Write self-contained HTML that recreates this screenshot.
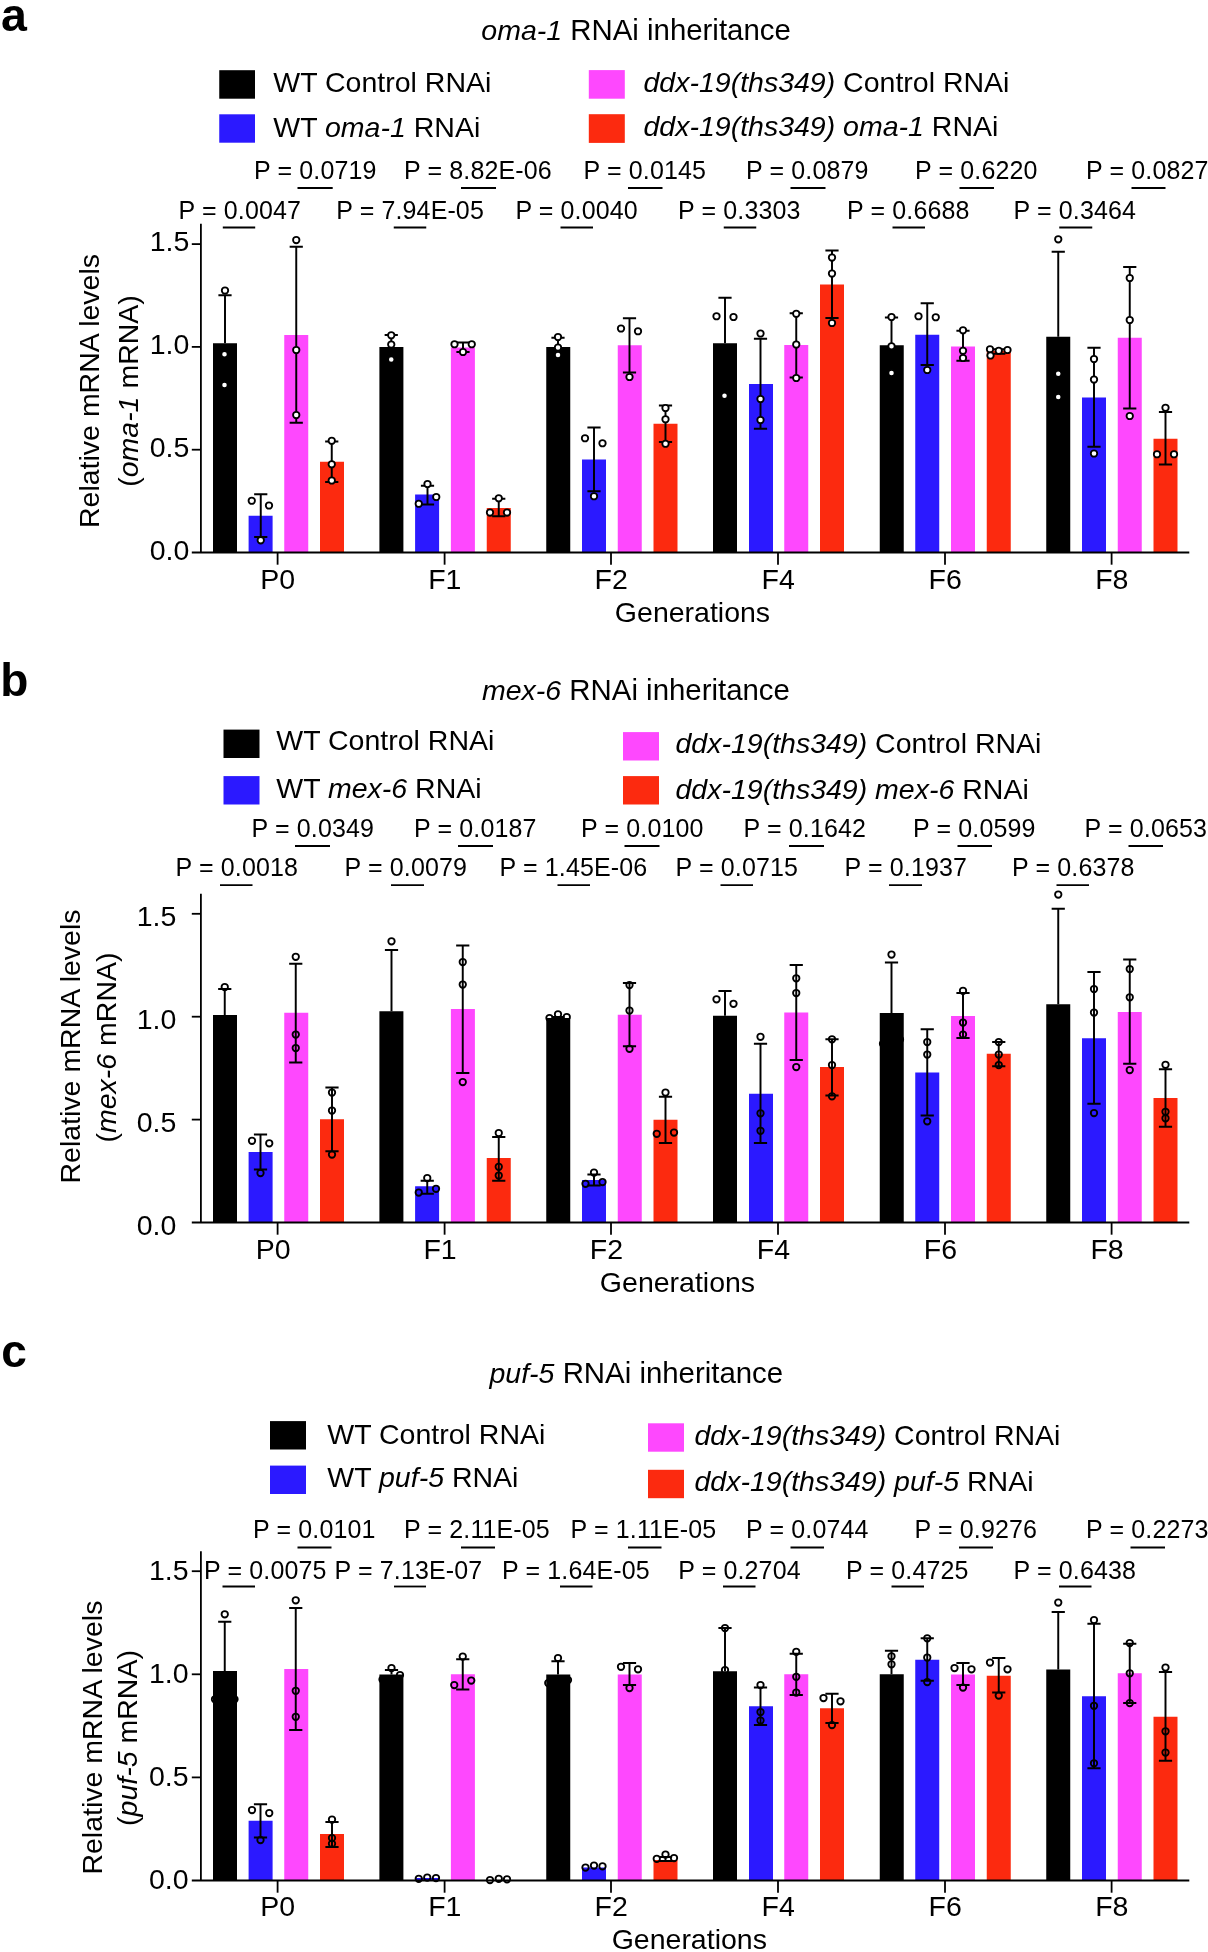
<!DOCTYPE html>
<html><head><meta charset="utf-8"><title>RNAi inheritance</title>
<style>
html,body{margin:0;padding:0;background:#fff;}
body{width:1208px;height:1952px;overflow:hidden;}
svg{display:block;font-family:"Liberation Sans",sans-serif;fill:#000;}
</style></head><body>
<svg width="1208" height="1952" viewBox="0 0 1208 1952">
<rect width="1208" height="1952" fill="#fff"/>
<rect x="213.00" y="343.25" width="24.0" height="209.25" fill="#000000"/>
<rect x="248.60" y="515.75" width="24.0" height="36.75" fill="#2b19ff"/>
<rect x="284.25" y="335.00" width="24.0" height="217.50" fill="#fe48fe"/>
<rect x="320.00" y="461.75" width="24.0" height="90.75" fill="#fc2a0f"/>
<rect x="379.40" y="347.00" width="24.0" height="205.50" fill="#000000"/>
<rect x="415.10" y="494.50" width="24.0" height="58.00" fill="#2b19ff"/>
<rect x="450.90" y="347.50" width="24.0" height="205.00" fill="#fe48fe"/>
<rect x="486.75" y="508.00" width="24.0" height="44.50" fill="#fc2a0f"/>
<rect x="546.25" y="347.00" width="24.0" height="205.50" fill="#000000"/>
<rect x="582.00" y="459.50" width="24.0" height="93.00" fill="#2b19ff"/>
<rect x="617.75" y="345.25" width="24.0" height="207.25" fill="#fe48fe"/>
<rect x="653.50" y="423.75" width="24.0" height="128.75" fill="#fc2a0f"/>
<rect x="713.00" y="343.25" width="24.0" height="209.25" fill="#000000"/>
<rect x="749.00" y="384.00" width="24.0" height="168.50" fill="#2b19ff"/>
<rect x="784.25" y="345.00" width="24.0" height="207.50" fill="#fe48fe"/>
<rect x="820.00" y="284.50" width="24.0" height="268.00" fill="#fc2a0f"/>
<rect x="879.75" y="345.25" width="24.0" height="207.25" fill="#000000"/>
<rect x="915.25" y="334.75" width="24.0" height="217.75" fill="#2b19ff"/>
<rect x="951.00" y="346.50" width="24.0" height="206.00" fill="#fe48fe"/>
<rect x="986.75" y="350.75" width="24.0" height="201.75" fill="#fc2a0f"/>
<rect x="1046.25" y="336.75" width="24.0" height="215.75" fill="#000000"/>
<rect x="1082.00" y="397.50" width="24.0" height="155.00" fill="#2b19ff"/>
<rect x="1117.75" y="337.75" width="24.0" height="214.75" fill="#fe48fe"/>
<rect x="1153.50" y="438.75" width="24.0" height="113.75" fill="#fc2a0f"/>
<g stroke="#000" stroke-width="1.8" fill="none">
<path d="M200.9 223.75V553.00"/>
<path d="M191.8 552.50H1189.3"/>
<path d="M191.8 449.70H200.9"/>
<path d="M191.8 346.90H200.9"/>
<path d="M191.8 244.10H200.9"/>
<path d="M277.60 552.50V564.70"/>
<path d="M444.60 552.50V564.70"/>
<path d="M611.00 552.50V564.70"/>
<path d="M778.00 552.50V564.70"/>
<path d="M945.00 552.50V564.70"/>
<path d="M1111.60 552.50V564.70"/>
</g>
<g stroke="#000" stroke-width="1.95" fill="none">
<path d="M225.00 295.25V343.25M218.40 295.25h13.2"/>
<path d="M260.75 494.25V537.00M254.15 494.25h13.2M254.15 537.00h13.2"/>
<path d="M296.25 246.75V422.75M289.65 246.75h13.2M289.65 422.75h13.2"/>
<path d="M331.75 441.50V482.00M325.15 441.50h13.2M325.15 482.00h13.2"/>
<path d="M391.25 335.00V347.00M384.65 335.00h13.2"/>
<path d="M427.50 485.75V504.50M420.90 485.75h13.2M420.90 504.50h13.2"/>
<path d="M463.00 342.50V352.00M456.40 342.50h13.2M456.40 352.00h13.2"/>
<path d="M498.75 498.75V516.25M492.15 498.75h13.2M492.15 516.25h13.2"/>
<path d="M558.00 337.75V347.00M551.40 337.75h13.2"/>
<path d="M594.00 427.50V491.25M587.40 427.50h13.2M587.40 491.25h13.2"/>
<path d="M629.50 318.25V372.50M622.90 318.25h13.2M622.90 372.50h13.2"/>
<path d="M665.50 405.50V442.00M658.90 405.50h13.2M658.90 442.00h13.2"/>
<path d="M725.00 297.75V343.25M718.40 297.75h13.2"/>
<path d="M760.50 338.75V428.75M753.90 338.75h13.2M753.90 428.75h13.2"/>
<path d="M796.25 313.25V377.50M789.65 313.25h13.2M789.65 377.50h13.2"/>
<path d="M832.00 250.50V318.00M825.40 250.50h13.2M825.40 318.00h13.2"/>
<path d="M891.50 317.50V345.25M884.90 317.50h13.2"/>
<path d="M927.25 303.25V365.00M920.65 303.25h13.2M920.65 365.00h13.2"/>
<path d="M963.00 330.75V360.75M956.40 330.75h13.2M956.40 360.75h13.2"/>
<path d="M998.75 349.25V353.75M992.15 349.25h13.2M992.15 353.75h13.2"/>
<path d="M1058.25 251.75V336.75M1051.65 251.75h13.2"/>
<path d="M1094.00 347.75V446.75M1087.40 347.75h13.2M1087.40 446.75h13.2"/>
<path d="M1129.75 267.00V408.50M1123.15 267.00h13.2M1123.15 408.50h13.2"/>
<path d="M1165.50 412.00V464.50M1158.90 412.00h13.2M1158.90 464.50h13.2"/>
</g>
<g stroke="#000" stroke-width="1.85" fill="#fff">
<circle cx="225.00" cy="290.50" r="3.2"/>
<circle cx="224.50" cy="354.25" r="3.2"/>
<circle cx="224.50" cy="385.00" r="3.2"/>
<circle cx="251.75" cy="500.75" r="3.2"/>
<circle cx="269.00" cy="505.50" r="3.2"/>
<circle cx="260.75" cy="540.25" r="3.2"/>
<circle cx="296.25" cy="240.00" r="3.2"/>
<circle cx="296.25" cy="350.00" r="3.2"/>
<circle cx="296.25" cy="415.00" r="3.2"/>
<circle cx="331.75" cy="440.75" r="3.2"/>
<circle cx="331.75" cy="464.25" r="3.2"/>
<circle cx="331.75" cy="480.50" r="3.2"/>
<circle cx="391.25" cy="335.25" r="3.2"/>
<circle cx="391.25" cy="344.50" r="3.2"/>
<circle cx="391.25" cy="359.50" r="3.2"/>
<circle cx="427.50" cy="484.00" r="3.2"/>
<circle cx="436.25" cy="497.00" r="3.2"/>
<circle cx="418.75" cy="503.75" r="3.2"/>
<circle cx="454.50" cy="344.25" r="3.2"/>
<circle cx="471.75" cy="344.25" r="3.2"/>
<circle cx="463.00" cy="352.00" r="3.2"/>
<circle cx="498.75" cy="498.25" r="3.2"/>
<circle cx="490.00" cy="512.50" r="3.2"/>
<circle cx="507.00" cy="512.50" r="3.2"/>
<circle cx="558.00" cy="337.00" r="3.2"/>
<circle cx="558.00" cy="347.50" r="3.2"/>
<circle cx="558.00" cy="355.00" r="3.2"/>
<circle cx="585.00" cy="438.25" r="3.2"/>
<circle cx="602.50" cy="443.25" r="3.2"/>
<circle cx="594.00" cy="496.25" r="3.2"/>
<circle cx="621.00" cy="328.50" r="3.2"/>
<circle cx="638.00" cy="331.25" r="3.2"/>
<circle cx="629.50" cy="377.00" r="3.2"/>
<circle cx="665.50" cy="408.00" r="3.2"/>
<circle cx="665.50" cy="419.25" r="3.2"/>
<circle cx="665.50" cy="443.75" r="3.2"/>
<circle cx="716.50" cy="316.25" r="3.2"/>
<circle cx="733.50" cy="317.00" r="3.2"/>
<circle cx="724.50" cy="395.75" r="3.2"/>
<circle cx="760.50" cy="333.50" r="3.2"/>
<circle cx="760.50" cy="399.00" r="3.2"/>
<circle cx="760.50" cy="420.00" r="3.2"/>
<circle cx="796.25" cy="313.75" r="3.2"/>
<circle cx="796.25" cy="344.50" r="3.2"/>
<circle cx="796.25" cy="378.00" r="3.2"/>
<circle cx="832.00" cy="257.50" r="3.2"/>
<circle cx="832.00" cy="273.50" r="3.2"/>
<circle cx="832.00" cy="323.00" r="3.2"/>
<circle cx="891.50" cy="317.00" r="3.2"/>
<circle cx="891.50" cy="346.25" r="3.2"/>
<circle cx="891.50" cy="373.00" r="3.2"/>
<circle cx="918.50" cy="316.25" r="3.2"/>
<circle cx="935.75" cy="317.25" r="3.2"/>
<circle cx="927.25" cy="370.00" r="3.2"/>
<circle cx="963.00" cy="330.25" r="3.2"/>
<circle cx="963.00" cy="350.75" r="3.2"/>
<circle cx="963.00" cy="358.00" r="3.2"/>
<circle cx="990.00" cy="349.25" r="3.2"/>
<circle cx="990.50" cy="355.50" r="3.2"/>
<circle cx="998.75" cy="350.75" r="3.2"/>
<circle cx="1007.50" cy="350.00" r="3.2"/>
<circle cx="1058.25" cy="239.25" r="3.2"/>
<circle cx="1058.25" cy="373.75" r="3.2"/>
<circle cx="1058.25" cy="397.00" r="3.2"/>
<circle cx="1094.00" cy="359.00" r="3.2"/>
<circle cx="1094.00" cy="379.50" r="3.2"/>
<circle cx="1094.00" cy="453.50" r="3.2"/>
<circle cx="1129.75" cy="278.00" r="3.2"/>
<circle cx="1129.75" cy="320.00" r="3.2"/>
<circle cx="1129.75" cy="416.00" r="3.2"/>
<circle cx="1165.50" cy="407.75" r="3.2"/>
<circle cx="1157.00" cy="454.25" r="3.2"/>
<circle cx="1174.00" cy="454.25" r="3.2"/>
</g>
<rect x="219.25" y="70.2" width="35.75" height="28.5" fill="#000000"/>
<rect x="219.25" y="114.3" width="35.75" height="28.4" fill="#2b19ff"/>
<rect x="588.8" y="70.1" width="36" height="28.6" fill="#fe48fe"/>
<rect x="588.8" y="114.2" width="36" height="28.7" fill="#fc2a0f"/>
<path d="M297.50 188.00H332.70" stroke="#000" stroke-width="1.8"/>
<path d="M461.00 188.00H496.00" stroke="#000" stroke-width="1.8"/>
<path d="M628.00 188.00H662.50" stroke="#000" stroke-width="1.8"/>
<path d="M790.50 188.00H825.50" stroke="#000" stroke-width="1.8"/>
<path d="M959.50 188.00H994.00" stroke="#000" stroke-width="1.8"/>
<path d="M1131.50 188.00H1165.50" stroke="#000" stroke-width="1.8"/>
<path d="M222.80 227.50H255.20" stroke="#000" stroke-width="1.8"/>
<path d="M393.75 227.50H426.25" stroke="#000" stroke-width="1.8"/>
<path d="M560.50 227.50H593.00" stroke="#000" stroke-width="1.8"/>
<path d="M723.75 227.50H756.25" stroke="#000" stroke-width="1.8"/>
<path d="M892.50 227.50H925.00" stroke="#000" stroke-width="1.8"/>
<path d="M1059.25 227.50H1092.25" stroke="#000" stroke-width="1.8"/>
<rect x="213.00" y="1015.00" width="24.0" height="207.50" fill="#000000"/>
<rect x="248.60" y="1152.00" width="24.0" height="70.50" fill="#2b19ff"/>
<rect x="284.25" y="1012.75" width="24.0" height="209.75" fill="#fe48fe"/>
<rect x="320.00" y="1119.25" width="24.0" height="103.25" fill="#fc2a0f"/>
<rect x="379.40" y="1011.25" width="24.0" height="211.25" fill="#000000"/>
<rect x="415.10" y="1186.25" width="24.0" height="36.25" fill="#2b19ff"/>
<rect x="450.90" y="1009.00" width="24.0" height="213.50" fill="#fe48fe"/>
<rect x="486.75" y="1158.00" width="24.0" height="64.50" fill="#fc2a0f"/>
<rect x="546.25" y="1018.00" width="24.0" height="204.50" fill="#000000"/>
<rect x="582.00" y="1180.00" width="24.0" height="42.50" fill="#2b19ff"/>
<rect x="617.75" y="1014.75" width="24.0" height="207.75" fill="#fe48fe"/>
<rect x="653.50" y="1119.75" width="24.0" height="102.75" fill="#fc2a0f"/>
<rect x="713.00" y="1015.75" width="24.0" height="206.75" fill="#000000"/>
<rect x="749.00" y="1093.75" width="24.0" height="128.75" fill="#2b19ff"/>
<rect x="784.25" y="1012.50" width="24.0" height="210.00" fill="#fe48fe"/>
<rect x="820.00" y="1067.00" width="24.0" height="155.50" fill="#fc2a0f"/>
<rect x="879.75" y="1013.00" width="24.0" height="209.50" fill="#000000"/>
<rect x="915.25" y="1072.50" width="24.0" height="150.00" fill="#2b19ff"/>
<rect x="951.00" y="1016.00" width="24.0" height="206.50" fill="#fe48fe"/>
<rect x="986.75" y="1053.75" width="24.0" height="168.75" fill="#fc2a0f"/>
<rect x="1046.25" y="1004.25" width="24.0" height="218.25" fill="#000000"/>
<rect x="1082.00" y="1038.25" width="24.0" height="184.25" fill="#2b19ff"/>
<rect x="1117.75" y="1012.00" width="24.0" height="210.50" fill="#fe48fe"/>
<rect x="1153.50" y="1098.00" width="24.0" height="124.50" fill="#fc2a0f"/>
<g stroke="#000" stroke-width="1.8" fill="none">
<path d="M200.9 893.75V1223.00"/>
<path d="M191.8 1222.50H1189.3"/>
<path d="M191.8 1119.60H200.9"/>
<path d="M191.8 1016.70H200.9"/>
<path d="M191.8 913.80H200.9"/>
<path d="M277.60 1222.50V1234.70"/>
<path d="M444.60 1222.50V1234.70"/>
<path d="M611.00 1222.50V1234.70"/>
<path d="M778.00 1222.50V1234.70"/>
<path d="M945.00 1222.50V1234.70"/>
<path d="M1111.60 1222.50V1234.70"/>
</g>
<g stroke="#000" stroke-width="1.95" fill="none">
<path d="M224.75 989.00V1015.00M218.15 989.00h13.2"/>
<path d="M260.50 1134.50V1169.50M253.90 1134.50h13.2M253.90 1169.50h13.2"/>
<path d="M295.75 963.75V1062.50M289.15 963.75h13.2M289.15 1062.50h13.2"/>
<path d="M332.00 1087.50V1151.25M325.40 1087.50h13.2M325.40 1151.25h13.2"/>
<path d="M391.50 950.00V1011.25M384.90 950.00h13.2"/>
<path d="M427.25 1180.75V1193.75M420.65 1180.75h13.2M420.65 1193.75h13.2"/>
<path d="M462.75 945.50V1073.00M456.15 945.50h13.2M456.15 1073.00h13.2"/>
<path d="M498.75 1137.00V1180.75M492.15 1137.00h13.2M492.15 1180.75h13.2"/>
<path d="M558.00 1017.00V1018.00M551.40 1017.00h13.2"/>
<path d="M594.00 1174.50V1185.50M587.40 1174.50h13.2M587.40 1185.50h13.2"/>
<path d="M629.50 983.00V1046.25M622.90 983.00h13.2M622.90 1046.25h13.2"/>
<path d="M665.50 1096.75V1143.00M658.90 1096.75h13.2M658.90 1143.00h13.2"/>
<path d="M725.00 991.00V1015.75M718.40 991.00h13.2"/>
<path d="M760.50 1043.75V1143.00M753.90 1043.75h13.2M753.90 1143.00h13.2"/>
<path d="M796.25 965.00V1060.00M789.65 965.00h13.2M789.65 1060.00h13.2"/>
<path d="M832.00 1039.25V1095.50M825.40 1039.25h13.2M825.40 1095.50h13.2"/>
<path d="M891.50 962.50V1013.00M884.90 962.50h13.2"/>
<path d="M927.25 1029.25V1115.50M920.65 1029.25h13.2M920.65 1115.50h13.2"/>
<path d="M963.00 993.00V1038.00M956.40 993.00h13.2M956.40 1038.00h13.2"/>
<path d="M998.75 1042.00V1066.25M992.15 1042.00h13.2M992.15 1066.25h13.2"/>
<path d="M1058.25 908.75V1004.25M1051.65 908.75h13.2"/>
<path d="M1094.00 972.00V1103.75M1087.40 972.00h13.2M1087.40 1103.75h13.2"/>
<path d="M1129.75 959.50V1063.75M1123.15 959.50h13.2M1123.15 1063.75h13.2"/>
<path d="M1165.50 1069.25V1126.75M1158.90 1069.25h13.2M1158.90 1126.75h13.2"/>
</g>
<g stroke="#000" stroke-width="1.85" fill="none">
<circle cx="224.75" cy="987.00" r="3.2"/>
<circle cx="252.00" cy="1140.75" r="3.2"/>
<circle cx="269.25" cy="1143.25" r="3.2"/>
<circle cx="260.50" cy="1173.00" r="3.2"/>
<circle cx="295.75" cy="956.75" r="3.2"/>
<circle cx="295.75" cy="1034.50" r="3.2"/>
<circle cx="295.75" cy="1048.00" r="3.2"/>
<circle cx="332.00" cy="1092.50" r="3.2"/>
<circle cx="332.00" cy="1110.50" r="3.2"/>
<circle cx="332.00" cy="1154.50" r="3.2"/>
<circle cx="391.50" cy="941.25" r="3.2"/>
<circle cx="427.25" cy="1178.00" r="3.2"/>
<circle cx="436.00" cy="1188.75" r="3.2"/>
<circle cx="418.75" cy="1192.50" r="3.2"/>
<circle cx="462.75" cy="962.00" r="3.2"/>
<circle cx="462.75" cy="984.50" r="3.2"/>
<circle cx="462.75" cy="1082.00" r="3.2"/>
<circle cx="498.75" cy="1133.00" r="3.2"/>
<circle cx="498.75" cy="1166.75" r="3.2"/>
<circle cx="498.75" cy="1175.50" r="3.2"/>
<circle cx="549.50" cy="1018.00" r="3.2"/>
<circle cx="558.00" cy="1014.25" r="3.2"/>
<circle cx="566.75" cy="1017.00" r="3.2"/>
<circle cx="594.00" cy="1172.50" r="3.2"/>
<circle cx="585.50" cy="1183.75" r="3.2"/>
<circle cx="602.50" cy="1182.00" r="3.2"/>
<circle cx="629.50" cy="985.00" r="3.2"/>
<circle cx="629.50" cy="1010.50" r="3.2"/>
<circle cx="629.50" cy="1048.75" r="3.2"/>
<circle cx="665.50" cy="1092.50" r="3.2"/>
<circle cx="656.75" cy="1133.75" r="3.2"/>
<circle cx="674.00" cy="1132.50" r="3.2"/>
<circle cx="716.50" cy="999.25" r="3.2"/>
<circle cx="733.50" cy="1003.75" r="3.2"/>
<circle cx="760.50" cy="1036.75" r="3.2"/>
<circle cx="760.50" cy="1113.25" r="3.2"/>
<circle cx="760.50" cy="1130.75" r="3.2"/>
<circle cx="796.25" cy="978.25" r="3.2"/>
<circle cx="796.25" cy="993.00" r="3.2"/>
<circle cx="796.25" cy="1067.00" r="3.2"/>
<circle cx="832.00" cy="1039.25" r="3.2"/>
<circle cx="832.00" cy="1065.00" r="3.2"/>
<circle cx="832.00" cy="1096.25" r="3.2"/>
<circle cx="891.50" cy="954.50" r="3.2"/>
<circle cx="883.00" cy="1043.75" r="3.2"/>
<circle cx="900.00" cy="1039.50" r="3.2"/>
<circle cx="927.25" cy="1042.00" r="3.2"/>
<circle cx="927.25" cy="1054.50" r="3.2"/>
<circle cx="927.25" cy="1121.25" r="3.2"/>
<circle cx="963.00" cy="990.75" r="3.2"/>
<circle cx="963.00" cy="1022.50" r="3.2"/>
<circle cx="963.00" cy="1034.50" r="3.2"/>
<circle cx="998.75" cy="1042.00" r="3.2"/>
<circle cx="998.75" cy="1054.50" r="3.2"/>
<circle cx="998.75" cy="1065.00" r="3.2"/>
<circle cx="1058.25" cy="894.50" r="3.2"/>
<circle cx="1094.00" cy="989.00" r="3.2"/>
<circle cx="1094.00" cy="1012.50" r="3.2"/>
<circle cx="1094.00" cy="1113.00" r="3.2"/>
<circle cx="1129.75" cy="969.00" r="3.2"/>
<circle cx="1129.75" cy="997.25" r="3.2"/>
<circle cx="1129.75" cy="1070.00" r="3.2"/>
<circle cx="1165.50" cy="1064.75" r="3.2"/>
<circle cx="1165.50" cy="1111.75" r="3.2"/>
<circle cx="1165.50" cy="1118.25" r="3.2"/>
</g>
<rect x="223.5" y="729.6" width="36" height="28.4" fill="#000000"/>
<rect x="223.5" y="776.1" width="36" height="28.4" fill="#2b19ff"/>
<rect x="623" y="732.1" width="36" height="28.4" fill="#fe48fe"/>
<rect x="623" y="776.1" width="36" height="28.4" fill="#fc2a0f"/>
<path d="M295.00 846.00H330.00" stroke="#000" stroke-width="1.8"/>
<path d="M458.00 846.00H493.00" stroke="#000" stroke-width="1.8"/>
<path d="M624.50 846.00H659.50" stroke="#000" stroke-width="1.8"/>
<path d="M789.00 846.00H824.00" stroke="#000" stroke-width="1.8"/>
<path d="M957.50 846.00H992.00" stroke="#000" stroke-width="1.8"/>
<path d="M1128.50 846.00H1163.00" stroke="#000" stroke-width="1.8"/>
<path d="M220.00 885.20H252.50" stroke="#000" stroke-width="1.8"/>
<path d="M391.00 885.20H424.00" stroke="#000" stroke-width="1.8"/>
<path d="M557.50 885.20H590.00" stroke="#000" stroke-width="1.8"/>
<path d="M720.50 885.20H753.00" stroke="#000" stroke-width="1.8"/>
<path d="M889.00 885.20H922.00" stroke="#000" stroke-width="1.8"/>
<path d="M1056.50 885.20H1089.00" stroke="#000" stroke-width="1.8"/>
<rect x="213.00" y="1671.00" width="24.0" height="209.50" fill="#000000"/>
<rect x="248.60" y="1820.75" width="24.0" height="59.75" fill="#2b19ff"/>
<rect x="284.25" y="1669.00" width="24.0" height="211.50" fill="#fe48fe"/>
<rect x="320.00" y="1834.00" width="24.0" height="46.50" fill="#fc2a0f"/>
<rect x="379.40" y="1674.50" width="24.0" height="206.00" fill="#000000"/>
<rect x="415.10" y="1878.00" width="24.0" height="2.50" fill="#2b19ff"/>
<rect x="450.90" y="1674.25" width="24.0" height="206.25" fill="#fe48fe"/>
<rect x="486.75" y="1880.00" width="24.0" height="0.50" fill="#fc2a0f"/>
<rect x="546.25" y="1674.50" width="24.0" height="206.00" fill="#000000"/>
<rect x="582.00" y="1867.50" width="24.0" height="13.00" fill="#2b19ff"/>
<rect x="617.75" y="1674.50" width="24.0" height="206.00" fill="#fe48fe"/>
<rect x="653.50" y="1860.00" width="24.0" height="20.50" fill="#fc2a0f"/>
<rect x="713.00" y="1671.25" width="24.0" height="209.25" fill="#000000"/>
<rect x="749.00" y="1706.25" width="24.0" height="174.25" fill="#2b19ff"/>
<rect x="784.25" y="1674.25" width="24.0" height="206.25" fill="#fe48fe"/>
<rect x="820.00" y="1708.25" width="24.0" height="172.25" fill="#fc2a0f"/>
<rect x="879.75" y="1674.25" width="24.0" height="206.25" fill="#000000"/>
<rect x="915.25" y="1659.75" width="24.0" height="220.75" fill="#2b19ff"/>
<rect x="951.00" y="1674.50" width="24.0" height="206.00" fill="#fe48fe"/>
<rect x="986.75" y="1675.75" width="24.0" height="204.75" fill="#fc2a0f"/>
<rect x="1046.25" y="1669.50" width="24.0" height="211.00" fill="#000000"/>
<rect x="1082.00" y="1696.25" width="24.0" height="184.25" fill="#2b19ff"/>
<rect x="1117.75" y="1673.25" width="24.0" height="207.25" fill="#fe48fe"/>
<rect x="1153.50" y="1716.75" width="24.0" height="163.75" fill="#fc2a0f"/>
<g stroke="#000" stroke-width="1.8" fill="none">
<path d="M200.9 1551.25V1881.00"/>
<path d="M191.8 1880.50H1189.3"/>
<path d="M191.8 1777.40H200.9"/>
<path d="M191.8 1674.30H200.9"/>
<path d="M191.8 1571.20H200.9"/>
<path d="M277.60 1880.50V1892.70"/>
<path d="M444.60 1880.50V1892.70"/>
<path d="M611.00 1880.50V1892.70"/>
<path d="M778.00 1880.50V1892.70"/>
<path d="M945.00 1880.50V1892.70"/>
<path d="M1111.60 1880.50V1892.70"/>
</g>
<g stroke="#000" stroke-width="1.95" fill="none">
<path d="M224.75 1621.75V1671.00M218.15 1621.75h13.2"/>
<path d="M260.50 1804.25V1837.50M253.90 1804.25h13.2M253.90 1837.50h13.2"/>
<path d="M295.75 1608.00V1730.00M289.15 1608.00h13.2M289.15 1730.00h13.2"/>
<path d="M332.00 1822.00V1847.00M325.40 1822.00h13.2M325.40 1847.00h13.2"/>
<path d="M391.50 1670.00V1674.50M384.90 1670.00h13.2"/>
<path d="M462.75 1659.25V1689.50M456.15 1659.25h13.2M456.15 1689.50h13.2"/>
<path d="M558.00 1661.25V1674.50M551.40 1661.25h13.2"/>
<path d="M629.50 1663.00V1685.00M622.90 1663.00h13.2M622.90 1685.00h13.2"/>
<path d="M665.50 1857.00V1861.00M658.90 1857.00h13.2M658.90 1861.00h13.2"/>
<path d="M725.00 1628.00V1671.25M718.40 1628.00h13.2"/>
<path d="M760.50 1687.50V1725.00M753.90 1687.50h13.2M753.90 1725.00h13.2"/>
<path d="M796.25 1653.75V1695.00M789.65 1653.75h13.2M789.65 1695.00h13.2"/>
<path d="M832.00 1693.75V1723.00M825.40 1693.75h13.2M825.40 1723.00h13.2"/>
<path d="M891.50 1650.75V1674.25M884.90 1650.75h13.2"/>
<path d="M927.25 1638.25V1680.75M920.65 1638.25h13.2M920.65 1680.75h13.2"/>
<path d="M963.00 1663.00V1685.00M956.40 1663.00h13.2M956.40 1685.00h13.2"/>
<path d="M998.75 1658.00V1692.50M992.15 1658.00h13.2M992.15 1692.50h13.2"/>
<path d="M1058.25 1612.00V1669.50M1051.65 1612.00h13.2"/>
<path d="M1094.00 1623.75V1768.25M1087.40 1623.75h13.2M1087.40 1768.25h13.2"/>
<path d="M1129.75 1643.75V1703.00M1123.15 1643.75h13.2M1123.15 1703.00h13.2"/>
<path d="M1165.50 1672.00V1760.75M1158.90 1672.00h13.2M1158.90 1760.75h13.2"/>
</g>
<g stroke="#000" stroke-width="1.85" fill="none">
<circle cx="224.75" cy="1614.25" r="3.2"/>
<circle cx="215.00" cy="1699.25" r="3.2"/>
<circle cx="234.50" cy="1699.25" r="3.2"/>
<circle cx="252.00" cy="1810.00" r="3.2"/>
<circle cx="269.25" cy="1813.00" r="3.2"/>
<circle cx="260.50" cy="1840.00" r="3.2"/>
<circle cx="295.75" cy="1600.25" r="3.2"/>
<circle cx="295.75" cy="1690.75" r="3.2"/>
<circle cx="295.75" cy="1716.75" r="3.2"/>
<circle cx="332.00" cy="1819.50" r="3.2"/>
<circle cx="332.00" cy="1838.00" r="3.2"/>
<circle cx="332.00" cy="1843.75" r="3.2"/>
<circle cx="391.50" cy="1668.00" r="3.2"/>
<circle cx="400.00" cy="1675.00" r="3.2"/>
<circle cx="382.50" cy="1679.50" r="3.2"/>
<circle cx="418.75" cy="1878.75" r="3.2"/>
<circle cx="427.25" cy="1877.50" r="3.2"/>
<circle cx="436.00" cy="1878.00" r="3.2"/>
<circle cx="462.75" cy="1656.50" r="3.2"/>
<circle cx="471.25" cy="1680.50" r="3.2"/>
<circle cx="454.25" cy="1685.00" r="3.2"/>
<circle cx="490.00" cy="1880.00" r="3.2"/>
<circle cx="498.75" cy="1878.75" r="3.2"/>
<circle cx="507.00" cy="1879.25" r="3.2"/>
<circle cx="558.00" cy="1658.00" r="3.2"/>
<circle cx="548.25" cy="1683.00" r="3.2"/>
<circle cx="568.00" cy="1680.00" r="3.2"/>
<circle cx="585.50" cy="1867.50" r="3.2"/>
<circle cx="594.00" cy="1865.50" r="3.2"/>
<circle cx="602.50" cy="1866.25" r="3.2"/>
<circle cx="621.00" cy="1666.75" r="3.2"/>
<circle cx="638.00" cy="1669.25" r="3.2"/>
<circle cx="629.50" cy="1688.00" r="3.2"/>
<circle cx="656.75" cy="1858.75" r="3.2"/>
<circle cx="665.50" cy="1854.50" r="3.2"/>
<circle cx="674.00" cy="1858.00" r="3.2"/>
<circle cx="725.00" cy="1628.00" r="3.2"/>
<circle cx="725.00" cy="1670.00" r="3.2"/>
<circle cx="760.50" cy="1685.00" r="3.2"/>
<circle cx="760.50" cy="1712.00" r="3.2"/>
<circle cx="760.50" cy="1720.50" r="3.2"/>
<circle cx="796.25" cy="1651.75" r="3.2"/>
<circle cx="796.25" cy="1676.75" r="3.2"/>
<circle cx="796.25" cy="1692.50" r="3.2"/>
<circle cx="823.50" cy="1698.00" r="3.2"/>
<circle cx="840.50" cy="1701.25" r="3.2"/>
<circle cx="832.00" cy="1725.00" r="3.2"/>
<circle cx="891.50" cy="1656.25" r="3.2"/>
<circle cx="891.50" cy="1664.25" r="3.2"/>
<circle cx="927.25" cy="1638.25" r="3.2"/>
<circle cx="927.25" cy="1657.50" r="3.2"/>
<circle cx="927.25" cy="1682.00" r="3.2"/>
<circle cx="954.50" cy="1668.00" r="3.2"/>
<circle cx="971.50" cy="1669.25" r="3.2"/>
<circle cx="963.00" cy="1687.50" r="3.2"/>
<circle cx="990.00" cy="1662.50" r="3.2"/>
<circle cx="1007.50" cy="1669.25" r="3.2"/>
<circle cx="998.75" cy="1695.50" r="3.2"/>
<circle cx="1058.25" cy="1602.50" r="3.2"/>
<circle cx="1094.00" cy="1620.00" r="3.2"/>
<circle cx="1094.00" cy="1705.75" r="3.2"/>
<circle cx="1094.00" cy="1763.25" r="3.2"/>
<circle cx="1129.75" cy="1643.00" r="3.2"/>
<circle cx="1129.75" cy="1673.25" r="3.2"/>
<circle cx="1129.75" cy="1703.00" r="3.2"/>
<circle cx="1165.50" cy="1667.50" r="3.2"/>
<circle cx="1165.50" cy="1731.25" r="3.2"/>
<circle cx="1165.50" cy="1752.50" r="3.2"/>
</g>
<rect x="270" y="1421.1" width="36" height="28.4" fill="#000000"/>
<rect x="270" y="1465.6" width="36" height="28.4" fill="#2b19ff"/>
<rect x="648" y="1423.3" width="36" height="28.4" fill="#fe48fe"/>
<rect x="648" y="1469.8" width="36" height="28.4" fill="#fc2a0f"/>
<path d="M297.50 1547.50H331.50" stroke="#000" stroke-width="1.8"/>
<path d="M461.00 1547.50H495.00" stroke="#000" stroke-width="1.8"/>
<path d="M628.00 1547.50H661.50" stroke="#000" stroke-width="1.8"/>
<path d="M790.50 1547.50H824.00" stroke="#000" stroke-width="1.8"/>
<path d="M959.00 1547.50H993.00" stroke="#000" stroke-width="1.8"/>
<path d="M1130.50 1547.50H1165.00" stroke="#000" stroke-width="1.8"/>
<path d="M222.50 1586.50H255.00" stroke="#000" stroke-width="1.8"/>
<path d="M394.00 1586.50H426.00" stroke="#000" stroke-width="1.8"/>
<path d="M560.00 1586.50H592.50" stroke="#000" stroke-width="1.8"/>
<path d="M723.00 1586.50H755.50" stroke="#000" stroke-width="1.8"/>
<path d="M891.50 1586.50H924.00" stroke="#000" stroke-width="1.8"/>
<path d="M1059.00 1586.50H1091.50" stroke="#000" stroke-width="1.8"/>
<g id="labels" style="filter:grayscale(1)">
<text x="0.9" y="30.5" font-size="46.5" font-weight="bold">a</text>
<text x="481.30" y="40.20" font-size="28.5" text-anchor="start" ><tspan font-style="italic">oma-1</tspan><tspan font-size="29.4"> RNAi inheritance</tspan></text>
<text x="273.30" y="92.30" font-size="28.5" text-anchor="start" >WT Control RNAi</text>
<text x="273.30" y="137.00" font-size="28.5" text-anchor="start" >WT <tspan font-style="italic">oma-1</tspan> RNAi</text>
<text x="643.50" y="92.00" font-size="28.5" text-anchor="start" ><tspan font-style="italic">ddx-19(ths349)</tspan> Control RNAi</text>
<text x="643.50" y="136.00" font-size="28.5" text-anchor="start" ><tspan font-style="italic">ddx-19(ths349) oma-1</tspan> RNAi</text>
<text x="254.10" y="178.80" font-size="25.0" text-anchor="start" letter-spacing="0.12">P = 0.0719</text>
<text x="404.10" y="178.80" font-size="25.0" text-anchor="start" letter-spacing="0.12">P = 8.82E-06</text>
<text x="583.60" y="178.80" font-size="25.0" text-anchor="start" letter-spacing="0.12">P = 0.0145</text>
<text x="746.10" y="178.80" font-size="25.0" text-anchor="start" letter-spacing="0.12">P = 0.0879</text>
<text x="915.10" y="178.80" font-size="25.0" text-anchor="start" letter-spacing="0.12">P = 0.6220</text>
<text x="1086.10" y="178.80" font-size="25.0" text-anchor="start" letter-spacing="0.12">P = 0.0827</text>
<text x="178.60" y="218.90" font-size="25.0" text-anchor="start" letter-spacing="0.12">P = 0.0047</text>
<text x="336.30" y="218.90" font-size="25.0" text-anchor="start" letter-spacing="0.12">P = 7.94E-05</text>
<text x="515.40" y="218.90" font-size="25.0" text-anchor="start" letter-spacing="0.12">P = 0.0040</text>
<text x="678.10" y="218.90" font-size="25.0" text-anchor="start" letter-spacing="0.12">P = 0.3303</text>
<text x="847.10" y="218.90" font-size="25.0" text-anchor="start" letter-spacing="0.12">P = 0.6688</text>
<text x="1013.60" y="218.90" font-size="25.0" text-anchor="start" letter-spacing="0.12">P = 0.3464</text>
<text x="189.30" y="559.70" font-size="28.5" text-anchor="end" >0.0</text>
<text x="189.30" y="456.90" font-size="28.5" text-anchor="end" >0.5</text>
<text x="189.30" y="354.10" font-size="28.5" text-anchor="end" >1.0</text>
<text x="189.30" y="251.30" font-size="28.5" text-anchor="end" >1.5</text>
<text x="277.80" y="588.60" font-size="28.5" text-anchor="middle" >P0</text>
<text x="444.80" y="588.60" font-size="28.5" text-anchor="middle" >F1</text>
<text x="611.20" y="588.60" font-size="28.5" text-anchor="middle" >F2</text>
<text x="778.20" y="588.60" font-size="28.5" text-anchor="middle" >F4</text>
<text x="945.20" y="588.60" font-size="28.5" text-anchor="middle" >F6</text>
<text x="1111.80" y="588.60" font-size="28.5" text-anchor="middle" >F8</text>
<text x="692.50" y="621.50" font-size="28.5" text-anchor="middle" >Generations</text>
<text transform="translate(98.75 391) rotate(-90)" font-size="28.5" text-anchor="middle">Relative mRNA levels</text>
<text transform="translate(138.2 391) rotate(-90)" font-size="28.5" text-anchor="middle">(<tspan font-style="italic">oma-1</tspan> mRNA)</text>
<text x="0.3" y="696" font-size="46" font-weight="bold">b</text>
<text x="482.00" y="700.40" font-size="28.5" text-anchor="start" ><tspan font-style="italic">mex-6</tspan><tspan font-size="29.4"> RNAi inheritance</tspan></text>
<text x="276.30" y="750.00" font-size="28.5" text-anchor="start" >WT Control RNAi</text>
<text x="276.30" y="797.50" font-size="28.5" text-anchor="start" >WT <tspan font-style="italic">mex-6</tspan> RNAi</text>
<text x="675.50" y="752.50" font-size="28.5" text-anchor="start" ><tspan font-style="italic">ddx-19(ths349)</tspan> Control RNAi</text>
<text x="675.50" y="798.50" font-size="28.5" text-anchor="start" ><tspan font-style="italic">ddx-19(ths349) mex-6</tspan> RNAi</text>
<text x="251.60" y="837.00" font-size="25.0" text-anchor="start" letter-spacing="0.12">P = 0.0349</text>
<text x="414.10" y="837.00" font-size="25.0" text-anchor="start" letter-spacing="0.12">P = 0.0187</text>
<text x="581.10" y="837.00" font-size="25.0" text-anchor="start" letter-spacing="0.12">P = 0.0100</text>
<text x="743.60" y="837.00" font-size="25.0" text-anchor="start" letter-spacing="0.12">P = 0.1642</text>
<text x="913.10" y="837.00" font-size="25.0" text-anchor="start" letter-spacing="0.12">P = 0.0599</text>
<text x="1084.60" y="837.00" font-size="25.0" text-anchor="start" letter-spacing="0.12">P = 0.0653</text>
<text x="175.60" y="876.00" font-size="25.0" text-anchor="start" letter-spacing="0.12">P = 0.0018</text>
<text x="344.60" y="876.00" font-size="25.0" text-anchor="start" letter-spacing="0.12">P = 0.0079</text>
<text x="499.60" y="876.00" font-size="25.0" text-anchor="start" letter-spacing="0.12">P = 1.45E-06</text>
<text x="675.60" y="876.00" font-size="25.0" text-anchor="start" letter-spacing="0.12">P = 0.0715</text>
<text x="844.60" y="876.00" font-size="25.0" text-anchor="start" letter-spacing="0.12">P = 0.1937</text>
<text x="1012.10" y="876.00" font-size="25.0" text-anchor="start" letter-spacing="0.12">P = 0.6378</text>
<text x="176.30" y="1234.70" font-size="28.5" text-anchor="end" >0.0</text>
<text x="176.30" y="1131.80" font-size="28.5" text-anchor="end" >0.5</text>
<text x="176.30" y="1028.90" font-size="28.5" text-anchor="end" >1.0</text>
<text x="176.30" y="926.00" font-size="28.5" text-anchor="end" >1.5</text>
<text x="273.10" y="1258.50" font-size="28.5" text-anchor="middle" >P0</text>
<text x="440.10" y="1258.50" font-size="28.5" text-anchor="middle" >F1</text>
<text x="606.50" y="1258.50" font-size="28.5" text-anchor="middle" >F2</text>
<text x="773.50" y="1258.50" font-size="28.5" text-anchor="middle" >F4</text>
<text x="940.50" y="1258.50" font-size="28.5" text-anchor="middle" >F6</text>
<text x="1107.10" y="1258.50" font-size="28.5" text-anchor="middle" >F8</text>
<text x="677.50" y="1291.50" font-size="28.5" text-anchor="middle" >Generations</text>
<text transform="translate(80.2 1046.5) rotate(-90)" font-size="28.5" text-anchor="middle">Relative mRNA levels</text>
<text transform="translate(115.5 1047.5) rotate(-90)" font-size="28.5" text-anchor="middle">(<tspan font-style="italic">mex-6</tspan> mRNA)</text>
<text x="1.3" y="1367" font-size="46" font-weight="bold">c</text>
<text x="489.50" y="1382.90" font-size="28.5" text-anchor="start" ><tspan font-style="italic">puf-5</tspan><tspan font-size="29.4"> RNAi inheritance</tspan></text>
<text x="327.30" y="1443.50" font-size="28.5" text-anchor="start" >WT Control RNAi</text>
<text x="327.30" y="1486.50" font-size="28.5" text-anchor="start" >WT <tspan font-style="italic">puf-5</tspan> RNAi</text>
<text x="694.50" y="1445.00" font-size="28.5" text-anchor="start" ><tspan font-style="italic">ddx-19(ths349)</tspan> Control RNAi</text>
<text x="694.50" y="1491.00" font-size="28.5" text-anchor="start" ><tspan font-style="italic">ddx-19(ths349) puf-5</tspan> RNAi</text>
<text x="253.10" y="1537.50" font-size="25.0" text-anchor="start" letter-spacing="0.12">P = 0.0101</text>
<text x="404.10" y="1537.50" font-size="25.0" text-anchor="start" letter-spacing="0.12">P = 2.11E-05</text>
<text x="570.60" y="1537.50" font-size="25.0" text-anchor="start" letter-spacing="0.12">P = 1.11E-05</text>
<text x="746.10" y="1537.50" font-size="25.0" text-anchor="start" letter-spacing="0.12">P = 0.0744</text>
<text x="914.60" y="1537.50" font-size="25.0" text-anchor="start" letter-spacing="0.12">P = 0.9276</text>
<text x="1086.10" y="1537.50" font-size="25.0" text-anchor="start" letter-spacing="0.12">P = 0.2273</text>
<text x="204.10" y="1578.50" font-size="25.0" text-anchor="start" letter-spacing="0.12">P = 0.0075</text>
<text x="334.60" y="1578.50" font-size="25.0" text-anchor="start" letter-spacing="0.12">P = 7.13E-07</text>
<text x="502.10" y="1578.50" font-size="25.0" text-anchor="start" letter-spacing="0.12">P = 1.64E-05</text>
<text x="678.30" y="1578.50" font-size="25.0" text-anchor="start" letter-spacing="0.12">P = 0.2704</text>
<text x="846.10" y="1578.50" font-size="25.0" text-anchor="start" letter-spacing="0.12">P = 0.4725</text>
<text x="1013.60" y="1578.50" font-size="25.0" text-anchor="start" letter-spacing="0.12">P = 0.6438</text>
<text x="188.50" y="1888.90" font-size="28.5" text-anchor="end" >0.0</text>
<text x="188.50" y="1785.80" font-size="28.5" text-anchor="end" >0.5</text>
<text x="188.50" y="1682.70" font-size="28.5" text-anchor="end" >1.0</text>
<text x="188.50" y="1579.60" font-size="28.5" text-anchor="end" >1.5</text>
<text x="277.80" y="1916.00" font-size="28.5" text-anchor="middle" >P0</text>
<text x="444.80" y="1916.00" font-size="28.5" text-anchor="middle" >F1</text>
<text x="611.20" y="1916.00" font-size="28.5" text-anchor="middle" >F2</text>
<text x="778.20" y="1916.00" font-size="28.5" text-anchor="middle" >F4</text>
<text x="945.20" y="1916.00" font-size="28.5" text-anchor="middle" >F6</text>
<text x="1111.80" y="1916.00" font-size="28.5" text-anchor="middle" >F8</text>
<text x="689.30" y="1949.00" font-size="28.5" text-anchor="middle" >Generations</text>
<text transform="translate(101.6 1737.6) rotate(-90)" font-size="28.5" text-anchor="middle">Relative mRNA levels</text>
<text transform="translate(136.7 1738) rotate(-90)" font-size="28.5" text-anchor="middle">(<tspan font-style="italic">puf-5</tspan> mRNA)</text>
</g>
</svg>
</body></html>
